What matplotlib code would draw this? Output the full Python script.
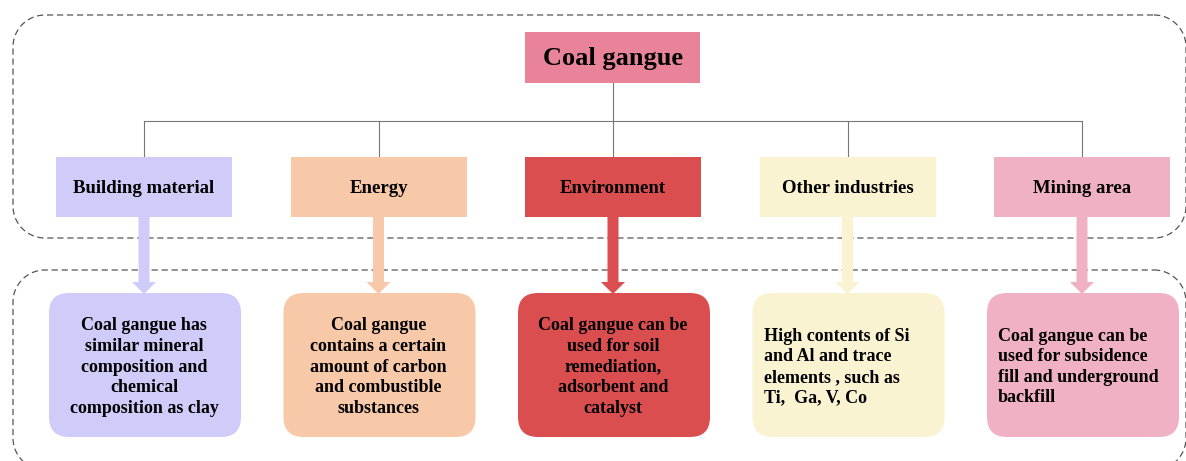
import numpy as np
import matplotlib.pyplot as plt
from matplotlib.patches import FancyBboxPatch, Rectangle, FancyArrow

plt.rcParams['font.family'] = ['Liberation Serif', 'DejaVu Serif']

root_label = 'Coal gangue'
root_color = '#E8839A'

categories = ['Building material', 'Energy', 'Environment', 'Other industries', 'Mining area']
cat_colors = ['#D0CCFA', '#F8C9A9', '#DA4E50', '#FAF3D2', '#F1B1C5']
descriptions = [
    'Coal gangue has\nsimilar mineral\ncomposition and\nchemical\ncomposition as clay',
    'Coal gangue\ncontains a certain\namount of carbon\nand combustible\nsubstances',
    'Coal gangue can be\nused for soil\nremediation,\nadsorbent and\ncatalyst',
    'High contents of Si\nand Al and trace\nelements , such as\nTi,  Ga, V, Co',
    'Coal gangue can be\nused for subsidence\nfill and underground\nbackfill',
]
desc_align = ['center', 'center', 'center', 'left', 'left']


def rounded_outline(x0, y0, x1, y1, r, n=24):
    # polyline of a rounded rectangle (y axis points down)
    arcs = [((x1 - r, y0 + r), -90, 0), ((x1 - r, y1 - r), 0, 90),
            ((x0 + r, y1 - r), 90, 180), ((x0 + r, y0 + r), 180, 270)]
    xs, ys = [], []
    for (cx, cy), a0, a1 in arcs:
        t = np.radians(np.linspace(a0, a1, n))
        xs.extend(cx + r * np.cos(t))
        ys.extend(cy + r * np.sin(t))
    xs.append(xs[0])
    ys.append(ys[0])
    return xs, ys


W, H = 1186, 461
fig = plt.figure(figsize=(W / 100, H / 100), dpi=100)
ax = fig.add_axes([0, 0, 1, 1])
ax.set_xlim(0, W)
ax.set_ylim(H, 0)
ax.axis('off')

# dashed group frames
for y0, y1 in [(15, 238), (270, 470)]:
    fx, fy = rounded_outline(13, y0, 1186, y1, 32)
    ax.plot(fx, fy, color='#555555', lw=0.9, ls=(0, (5, 3)), zorder=1)

# root box
ax.add_patch(Rectangle((525, 32), 175, 51, fc=root_color, ec='none', zorder=3))
ax.text(613, 59, root_label, ha='center', va='center', fontsize=19,
        fontweight='bold', zorder=4)

centers = [144 + 234.5 * i for i in range(len(categories))]

# tree connectors
ax.plot([613, 613], [83, 121], color='#777777', lw=0.8, zorder=2)
ax.plot([centers[0], centers[-1]], [121, 121], color='#777777', lw=0.8, zorder=2)
for cx in centers:
    ax.plot([cx, cx], [121, 157], color='#777777', lw=0.8, zorder=2)

for cx, name, col, desc, al in zip(centers, categories, cat_colors, descriptions, desc_align):
    ax.add_patch(Rectangle((cx - 88, 157), 176, 60, fc=col, ec='none', zorder=3))
    ax.text(cx, 188, name, ha='center', va='center', fontsize=13.5,
            fontweight='bold', zorder=4)
    ax.add_patch(FancyArrow(cx, 216, 0, 78, width=11, head_width=24,
                            head_length=12, length_includes_head=True,
                            fc=col, ec='none', zorder=3))
    ax.add_patch(FancyBboxPatch((cx - 95, 293), 192, 144,
                                boxstyle='round,pad=0,rounding_size=20',
                                fc=col, ec='none', zorder=3))
    tx = cx if al == 'center' else cx - 84
    ax.text(tx, 367, desc, ha=al, va='center', multialignment=al,
            fontsize=13, fontweight='bold', linespacing=1.27, zorder=4)

fig.savefig('out.png', dpi=100)
